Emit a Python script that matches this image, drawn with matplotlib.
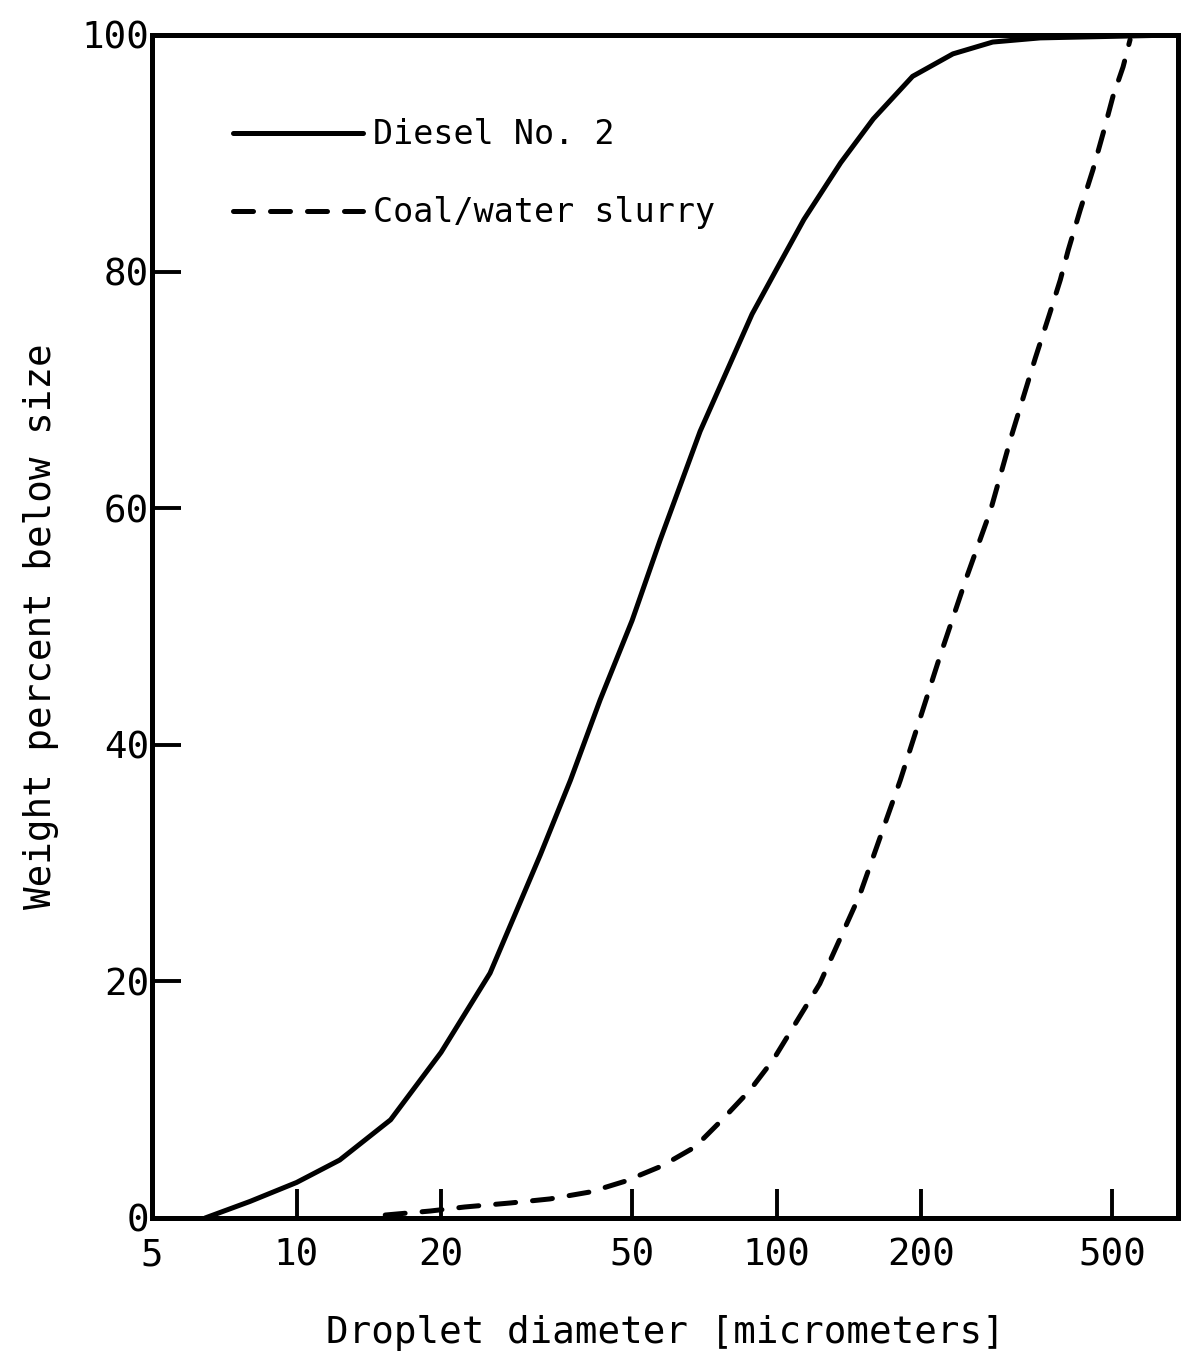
import matplotlib
matplotlib.use("Agg")
import matplotlib.pyplot as plt
from matplotlib.ticker import FixedLocator, NullLocator

plt.rcParams['font.family'] = ['DejaVu Sans Mono', 'DejaVu Sans']

# values
diesel_d = [6.45, 8.0, 10.0, 12.3, 15.7, 20.0, 25.3, 32.2, 37.2, 42.9, 50.0,
            57.2, 69.3, 88.9, 100.0, 114.0, 136.0, 159.0, 192.0, 233.0, 282.0, 354.0, 686.0]
diesel_w = [0.0, 1.4, 3.0, 4.9, 8.3, 14.0, 20.7, 30.7, 37.0, 43.8, 50.5,
            57.3, 66.5, 76.4, 80.2, 84.4, 89.2, 92.9, 96.5, 98.4, 99.4, 99.75, 100.0]

slurry_d = [15.3, 19.0, 22.4, 27.9, 33.7, 40.9, 48.3, 57.7, 67.6, 77.0, 88.0,
            98.5, 123.0, 149.0, 181.0, 219.0, 249.0, 279.0, 309.0, 346.0,
            371.0, 390.0, 405.0, 429.0, 456.0, 479.0, 502.0, 527.0, 545.0]
slurry_w = [0.25, 0.59, 0.93, 1.27, 1.61, 2.2, 3.1, 4.4, 6.0, 8.3, 10.8,
            13.4, 19.8, 27.3, 37.0, 47.5, 54.2, 59.8, 66.2, 72.7,
            76.5, 79.3, 81.8, 85.2, 88.6, 91.7, 94.8, 97.3, 99.6]

x_ticks = [5, 10, 20, 50, 100, 200, 500]
y_ticks = [0, 20, 40, 60, 80, 100]

fig = plt.figure(figsize=(11.86, 13.65), dpi=100)
ax = fig.add_axes([0.1282, 0.1077, 0.8651, 0.8667])

ax.plot(diesel_d, diesel_w, color="black", linewidth=3.6,
        solid_capstyle="round", solid_joinstyle="round", label="Diesel No. 2")
ax.plot(slurry_d, slurry_w, color="black", linewidth=3.6,
        dashes=(4, 3.4), dash_capstyle="round", label="Coal/water slurry")

ax.set_xscale("log")
ax.set_xlim(5, 686)
ax.set_ylim(0, 100)
ax.xaxis.set_major_locator(FixedLocator(x_ticks))
ax.xaxis.set_minor_locator(NullLocator())
ax.set_xticklabels([str(t) for t in x_ticks])
ax.set_yticks(y_ticks)
ax.set_yticklabels([str(t) for t in y_ticks])

ax.tick_params(axis="x", direction="in", length=21, width=2.8, pad=14, labelsize=27)
ax.tick_params(axis="y", direction="in", length=21, width=2.8, pad=2, labelsize=27)
for s in ax.spines.values():
    s.set_linewidth(3.6)

ax.set_xlabel("Droplet diameter [micrometers]", fontsize=27, labelpad=30)
ax.set_ylabel("Weight percent below size", fontsize=27, labelpad=16)

ax.legend(loc="upper left", bbox_to_anchor=(0.05, 0.955), frameon=False,
          fontsize=24, handlelength=3.9, handletextpad=0.3, labelspacing=1.35)

fig.savefig("out.png", dpi=100)
